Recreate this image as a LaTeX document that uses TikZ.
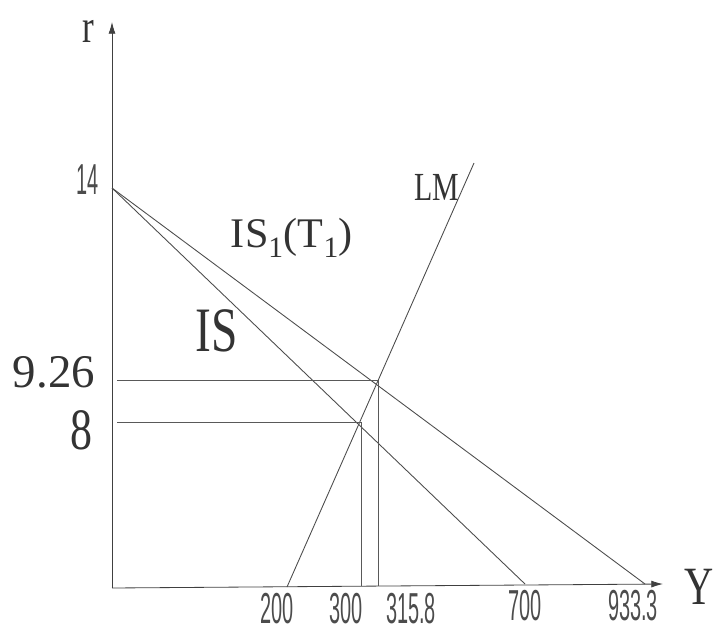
\documentclass[tikz,border=0pt]{standalone}
\usepackage{fontspec}
\setmainfont{Liberation Serif}
\newfontfamily\narrowserif[FakeStretch=0.75]{Liberation Serif}
\newfontfamily\tickfont[FakeStretch=0.46]{Liberation Sans}
\usetikzlibrary{arrows.meta}

\begin{document}
\begin{tikzpicture}[
  x=0.03cm, y=-0.03cm,
  curve/.style={draw=black!70, line width=0.75pt},
  guide/.style={draw=black!65, line width=0.6pt},
  axis/.style={draw=black!75, line width=0.7pt, -{Latex[length=10pt,width=6pt]}},
  tick/.style={text=black!70, inner sep=0pt, font=\tickfont\fontsize{37}{40}\selectfont},
  big/.style={text=black!80, inner sep=0pt}
]
\useasboundingbox (0,0) rectangle (717,635);
\coordinate (O) at (112,588);
\coordinate (rtop) at (112,22);
\coordinate (ytip) at (663,584);
\coordinate (A) at (112,188);
\coordinate (isend) at (525,584);
\coordinate (isoneend) at (645,584);
\coordinate (lmlow) at (287,587);
\coordinate (lmhigh) at (474,163);
\coordinate (E) at (361,422);
\coordinate (Eone) at (378,380);
\coordinate (rE) at (117,422);
\coordinate (rEone) at (117,380);
\coordinate (yE) at (361,586);
\coordinate (yEone) at (378,586);
\draw[axis] (O) -- (rtop);
\draw[axis] (O) -- (ytip);
\draw[curve] (A) -- (isend);
\draw[curve] (A) -- (isoneend);
\draw[curve] (lmlow) -- (lmhigh);
\draw[guide] (rEone) -- (Eone) -- (yEone);
\draw[guide] (rE) -- (E) -- (yE);
\node[tick] (t14) at (88,180) {14};
\node[tick] (t200) at (277,609) {200};
\node[tick] (t300) at (346,609) {300};
\node[tick] (t3158) at (411,609) {315.8};
\node[tick] (t700) at (525,606) {700};
\node[tick] (t9333) at (633,606) {933.3};
\node[big, font=\narrowserif\fontsize{40}{44}\selectfont] (r) at (88,31) {r};
\node[big, font=\fontsize{40}{44}\selectfont] (l926) at (54,372) {9.26};
\node[big, font=\narrowserif\fontsize{50}{54}\selectfont] (l8) at (81,430) {8};
\node[big, font=\narrowserif\fontsize{54}{58}\selectfont] (is) at (217,331) {IS};
\node[big, font=\fontsize{36}{40}\selectfont] (isone) at (292,238) {IS\textsubscript{1}(T\textsubscript{1})};
\node[big, font=\narrowserif\fontsize{34}{38}\selectfont] (lm) at (437,187) {LM};
\node[big, font=\narrowserif\fontsize{46}{50}\selectfont] (y) at (699,587) {Y};
\end{tikzpicture}
\end{document}
